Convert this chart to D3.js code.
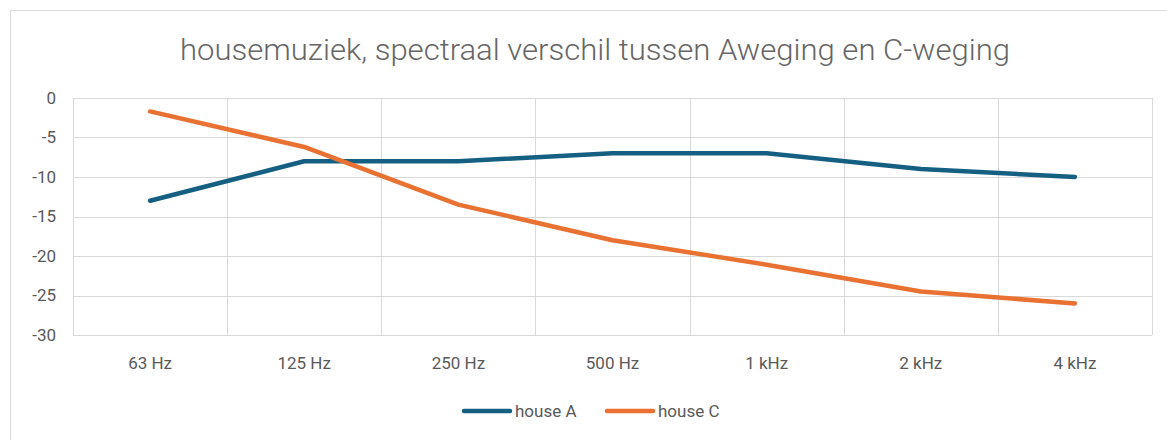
<!DOCTYPE html>
<html>
<head>
<meta charset="utf-8">
<script src="https://cdn.jsdelivr.net/npm/d3@7"></script>
<style>
  body { margin: 0; background: #fff; }
  text { font-family: Roboto, "Liberation Sans", sans-serif; fill: #595959; }
</style>
</head>
<body>
<div id="chart"></div>
<script>
// data
var categories = ["63 Hz", "125 Hz", "250 Hz", "500 Hz", "1 kHz", "2 kHz", "4 kHz"];
var houseA = [-13, -8, -8, -7, -7, -9, -10];
var houseC = [-1.7, -6.2, -13.5, -18, -21.1, -24.5, -26];
var yTicks = [0, -5, -10, -15, -20, -25, -30];
var seriesNames = ["house A", "house C"];
var seriesColors = ["#156082", "#E97132"];

var W = 1167, H = 440;
var margin = {top: 98, right: 15, bottom: 105, left: 73};
var width = 1152 - margin.left;
var height = 335 - margin.top;

var svg = d3.select("#chart").append("svg")
    .attr("width", W)
    .attr("height", H);

// chart frame
svg.append("rect")
    .attr("x", 10.5).attr("y", 10.5)
    .attr("width", W).attr("height", H)
    .attr("fill", "#fff")
    .attr("stroke", "#d9d9d9");

svg.append("text")
    .attr("x", 595).attr("y", 60)
    .attr("text-anchor", "middle")
    .attr("font-size", 29)
    .attr("font-weight", 300)
    .attr("textLength", 830)
    .attr("lengthAdjust", "spacingAndGlyphs")
    .style("fill", "#666")
    .text("housemuziek, spectraal verschil tussen Aweging en C-weging");

var g = svg.append("g")
    .attr("transform", "translate(" + margin.left + "," + margin.top + ")");

var x = d3.scaleBand().domain(categories).range([0, width]);
var y = d3.scaleLinear().domain([-30, 0]).range([height, 0]);

// horizontal gridlines
g.append("g")
  .selectAll("line")
  .data(yTicks)
  .enter().append("line")
    .attr("x1", 0).attr("x2", width)
    .attr("y1", function(d) { return Math.round(y(d)) + 0.5; })
    .attr("y2", function(d) { return Math.round(y(d)) + 0.5; })
    .attr("stroke", "#d9d9d9");

// vertical gridlines at category boundaries
var bounds = categories.map(function(c) { return x(c); }).concat([width]);
g.append("g")
  .selectAll("line")
  .data(bounds)
  .enter().append("line")
    .attr("x1", function(d) { return Math.round(d) + 0.5; })
    .attr("x2", function(d) { return Math.round(d) + 0.5; })
    .attr("y1", 0).attr("y2", height)
    .attr("stroke", "#d9d9d9");

// y axis labels (plain hyphen, like the original)
var yAxis = g.append("g")
    .call(d3.axisLeft(y).tickValues(yTicks).tickSize(0).tickPadding(17)
      .tickFormat(function(d) { return String(d); }));
yAxis.select(".domain").remove();
yAxis.selectAll("text")
    .attr("font-size", 17)
    .attr("font-family", null)
    .attr("fill", null);

// x axis labels
var xAxis = g.append("g")
    .attr("transform", "translate(0," + height + ")")
    .call(d3.axisBottom(x).tickSize(0).tickPadding(22));
xAxis.select(".domain").remove();
xAxis.selectAll("text")
    .attr("font-size", 17)
    .attr("font-family", null)
    .attr("fill", null);

var line = d3.line()
    .x(function(d, i) { return x(categories[i]) + x.bandwidth() / 2; })
    .y(function(d) { return y(d); });

[houseA, houseC].forEach(function(s, i) {
  g.append("path")
      .datum(s)
      .attr("fill", "none")
      .attr("stroke", seriesColors[i])
      .attr("stroke-width", 4.5)
      .attr("stroke-linecap", "round")
      .attr("stroke-linejoin", "round")
      .attr("d", line);
});

// legend
var legendX = [464, 607];
seriesNames.forEach(function(name, i) {
  var lg = svg.append("g").attr("transform", "translate(" + legendX[i] + ",411)");
  lg.append("line")
      .attr("x1", 0).attr("x2", 46)
      .attr("stroke", seriesColors[i])
      .attr("stroke-width", 4.5)
      .attr("stroke-linecap", "round");
  lg.append("text")
      .attr("x", 51).attr("y", 6)
      .attr("font-size", 17)
      .text(name);
});
</script>
</body>
</html>
